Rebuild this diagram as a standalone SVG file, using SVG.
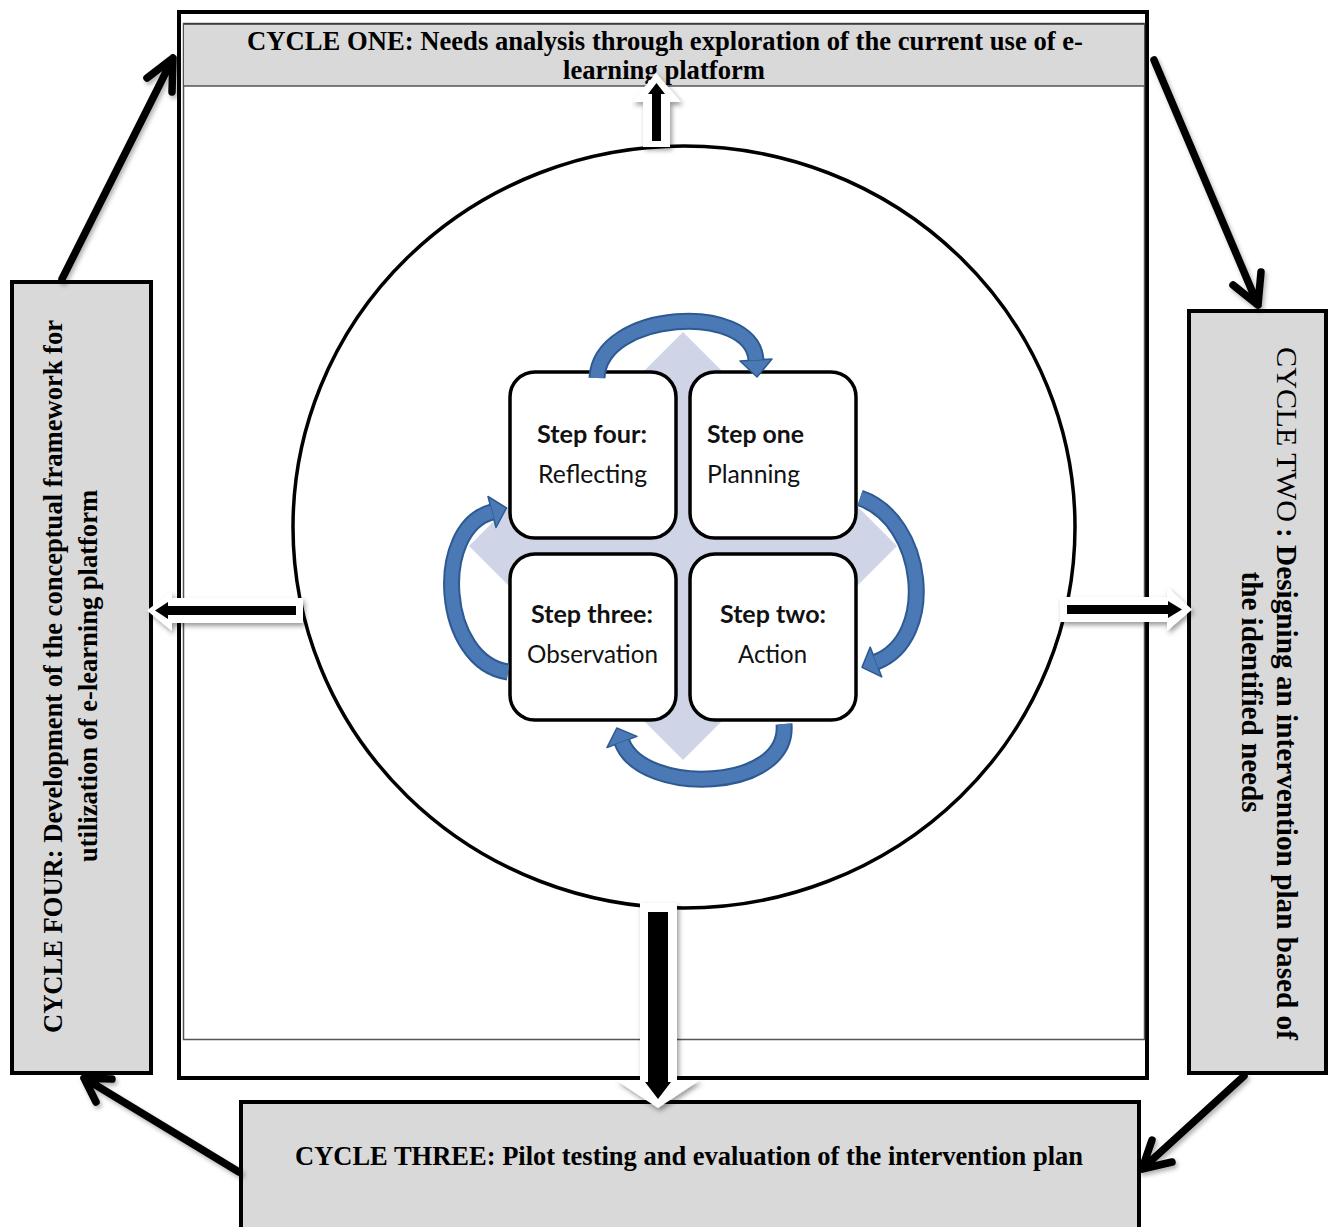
<svg xmlns="http://www.w3.org/2000/svg" width="1330" height="1227" viewBox="0 0 1330 1227">
  <defs>
    <style>
      .cyc{font-family:"Liberation Serif","Times New Roman",serif;font-weight:bold;fill:#000}
      .reg{font-weight:normal}
      .box{fill:#d9d9d9;stroke:#000;stroke-width:4}
      .step{fill:#fff;stroke:#000;stroke-width:3.5}
      .st{font-family:Lato,"Open Sans",sans-serif;font-size:25px;fill:#111}
      .stb{font-weight:bold}
      .conn{fill:none;stroke:#000;stroke-width:7.5;stroke-linecap:round;stroke-linejoin:round}
      .band-dk{fill:none;stroke:#2d5a91;stroke-width:17}
      .band-lt{fill:none;stroke:#4b79b6;stroke-width:13}
      .head{fill:#4b79b6;stroke:#2d5a91;stroke-width:1.5;stroke-linejoin:round}
      .blk-w{fill:#fff}
      .blk-k{fill:#000}
    </style>
    <filter id="shadow" x="-30%" y="-30%" width="160%" height="160%">
      <feDropShadow dx="2" dy="3" stdDeviation="2.5" flood-color="#000" flood-opacity="0.4"/>
    </filter>
    <filter id="lineShadow" x="-20%" y="-20%" width="140%" height="140%">
      <feDropShadow dx="2" dy="3" stdDeviation="2" flood-color="#000" flood-opacity="0.3"/>
    </filter>
  </defs>

  <rect width="1330" height="1227" fill="#fff"/>

  <!-- outer frame holding the research cycle -->
  <g id="frame">
    <rect x="179" y="12" width="968" height="1066" fill="#fff" stroke="#000" stroke-width="4"/>
    <rect x="183.5" y="23.5" width="961" height="1016" fill="none" stroke="#555" stroke-width="1.5"/>
  </g>

  <!-- cycle one: header band -->
  <g id="cycle-one">
    <rect x="184" y="24" width="960" height="62" fill="#d9d9d9"/>
    <line x1="184" y1="86" x2="1144" y2="86" stroke="#555" stroke-width="1.5"/>
    <line x1="184" y1="24" x2="1144" y2="24" stroke="#333" stroke-width="1.5"/>
    <text class="cyc" x="665" y="49.5" font-size="26.5" text-anchor="middle" textLength="836" lengthAdjust="spacingAndGlyphs">CYCLE ONE: Needs analysis through exploration of the current use of e-</text>
    <text class="cyc" x="664" y="78.5" font-size="26.5" text-anchor="middle" textLength="202" lengthAdjust="spacingAndGlyphs">learning platform</text>
  </g>

  <!-- cycle two: right column -->
  <g id="cycle-two">
    <rect class="box" x="1189" y="311" width="137" height="762"/>
    <text class="cyc reg" transform="translate(1277,347) rotate(90)" x="0" y="0" font-size="29" textLength="175" lengthAdjust="spacingAndGlyphs">CYCLE TWO</text>
    <text class="cyc" transform="translate(1277,528) rotate(90)" x="0" y="0" font-size="29" textLength="512" lengthAdjust="spacingAndGlyphs">: Designing an intervention plan based of</text>
    <text class="cyc" transform="translate(1242,692) rotate(90)" x="0" y="0" font-size="29" text-anchor="middle" textLength="241" lengthAdjust="spacingAndGlyphs">the identified needs</text>
  </g>

  <!-- cycle three: bottom band -->
  <g id="cycle-three">
    <rect class="box" x="241" y="1102" width="898" height="140"/>
    <text class="cyc" x="689" y="1165" font-size="26.5" text-anchor="middle" textLength="788" lengthAdjust="spacingAndGlyphs">CYCLE THREE: Pilot testing and evaluation of the intervention plan</text>
  </g>

  <!-- cycle four: left column -->
  <g id="cycle-four">
    <rect class="box" x="12" y="282" width="139" height="791"/>
    <text class="cyc" transform="translate(62,676.5) rotate(-90)" x="0" y="0" font-size="28" text-anchor="middle" textLength="713" lengthAdjust="spacingAndGlyphs">CYCLE FOUR: Development of the conceptual framework for</text>
    <text class="cyc" transform="translate(97,676) rotate(-90)" x="0" y="0" font-size="28" text-anchor="middle" textLength="372" lengthAdjust="spacingAndGlyphs">utilization of e-learning platform</text>
  </g>

  <!-- action research circle -->
  <g id="research-circle">
    <ellipse cx="684" cy="527" rx="391" ry="381" fill="none" stroke="#000" stroke-width="3.5"/>
  </g>

  <!-- backdrop diamond behind the four steps -->
  <g id="step-backdrop">
    <polygon points="683,332 897,546 683,760 469,546" fill="#cfd5e6"/>
  </g>

  <g id="step-four">
    <rect class="step" x="510" y="372" width="166" height="166" rx="25"/>
    <text class="st stb" x="537" y="443" textLength="110" lengthAdjust="spacingAndGlyphs">Step four:</text>
    <text class="st" x="538" y="483" textLength="109" lengthAdjust="spacingAndGlyphs">Reflecting</text>
  </g>

  <g id="step-one">
    <rect class="step" x="690" y="372" width="166" height="166" rx="25"/>
    <text class="st stb" x="707" y="443" textLength="97" lengthAdjust="spacingAndGlyphs">Step one</text>
    <text class="st" x="707" y="483" textLength="93" lengthAdjust="spacingAndGlyphs">Planning</text>
  </g>

  <g id="step-three">
    <rect class="step" x="510" y="554" width="166" height="166" rx="25"/>
    <text class="st stb" x="531" y="623" textLength="122" lengthAdjust="spacingAndGlyphs">Step three:</text>
    <text class="st" x="527" y="663" textLength="131" lengthAdjust="spacingAndGlyphs">Observation</text>
  </g>

  <g id="step-two">
    <rect class="step" x="690" y="554" width="166" height="166" rx="25"/>
    <text class="st stb" x="720" y="623" textLength="106" lengthAdjust="spacingAndGlyphs">Step two:</text>
    <text class="st" x="738" y="663" textLength="69" lengthAdjust="spacingAndGlyphs">Action</text>
  </g>

  <g id="connectors">
    <!-- outer cycle: four -> one -> two -> three -> four -->
    <g filter="url(#lineShadow)">
      <path class="conn" d="M62,279 L173,58 M147,78 L173,58 L172,92"/>
      <path class="conn" d="M1154,60 L1258,305 M1233,285 L1258,305 L1261,272"/>
      <path class="conn" d="M1244,1076 L1142,1169 M1152,1140 L1142,1169 L1172,1162"/>
      <path class="conn" d="M239,1172 L84,1078 M96,1102 L84,1078 L112,1079"/>
    </g>

    <!-- curved arrows linking the steps -->
    <g id="step-arrow-top">
      <path class="band-dk" d="M597,378 C600,310 752,302 756,360"/>
      <polygon class="head" points="772,359 757,377 740,361"/>
      <path class="band-lt" d="M597,378 C600,310 752,302 756,360"/>
    </g>
    <g id="step-arrow-right">
      <path class="band-dk" d="M860,498 C925,520 938,638 876,662"/>
      <polygon class="head" points="881.8,676.9 862,667.4 870.2,647.1"/>
      <path class="band-lt" d="M860,498 C925,520 938,638 876,662"/>
    </g>
    <g id="step-arrow-bottom">
      <path class="band-dk" d="M784,724 C790,792 642,796 622,742"/>
      <polygon class="head" points="637,736.4 616.8,728 607,747.6"/>
      <path class="band-lt" d="M784,724 C790,792 642,796 622,742"/>
    </g>
    <g id="step-arrow-left">
      <path class="band-dk" d="M508,672 C440,662 432,528 492,512"/>
      <polygon class="head" points="496,527.5 506.5,508 488,496.5"/>
      <path class="band-lt" d="M508,672 C440,662 432,528 492,512"/>
    </g>

    <!-- block arrows from the circle to each cycle -->
    <g id="to-cycle-one">
      <polygon class="blk-w" filter="url(#shadow)" points="643,147 643,102 632,102 656,73 681,102 670,102 670,147"/>
      <polygon class="blk-k" points="652,141 652,94 648,94 656.5,83 665,94 661,94 661,141"/>
    </g>
    <g id="to-cycle-two">
      <polygon class="blk-w" filter="url(#shadow)" points="1060,597 1167,597 1167,587 1192,609.5 1167,631 1167,622 1060,622"/>
      <polygon class="blk-k" points="1067,605 1168,605 1168,601 1182,609.5 1168,618 1168,614 1067,614"/>
    </g>
    <g id="to-cycle-three">
      <polygon class="blk-w" filter="url(#shadow)" points="640,903 677,903 677,1080 700,1080 658,1108 616,1080 640,1080"/>
      <polygon class="blk-k" points="648,912 668,912 668,1082 671,1082 658,1099 645,1082 648,1082"/>
    </g>
    <g id="to-cycle-four">
      <polygon class="blk-w" filter="url(#shadow)" points="303,598 172,598 172,591 147,610.5 172,631 172,623 303,623"/>
      <polygon class="blk-k" points="296,606 168,606 168,602 155,610.5 168,619 168,615 296,615"/>
    </g>
  </g>
</svg>
